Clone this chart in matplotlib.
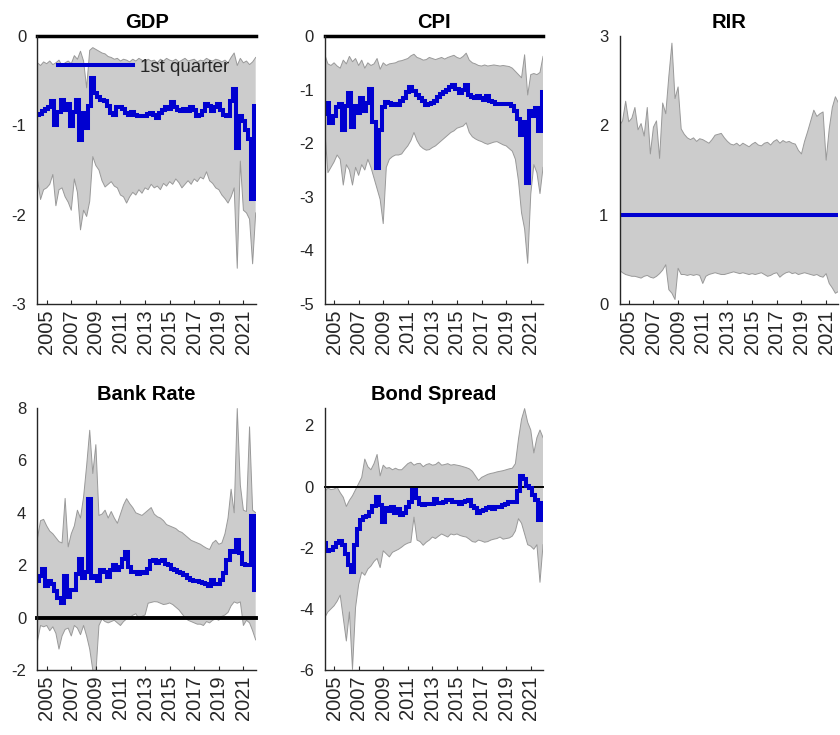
import numpy as np
import matplotlib
matplotlib.use("Agg")
import matplotlib.pyplot as plt

plt.rcParams['font.family'] = ['Liberation Sans', 'DejaVu Sans']
plt.rcParams['axes.unicode_minus'] = False

# quarterly dates, 2004Q2 .. 2022Q1
dates = 2004.25 + 0.25 * np.arange(72)
year_ticks = [2005, 2007, 2009, 2011, 2013, 2015, 2017, 2019, 2021]

# ---- GDP ----
gdp_med = [-0.88, -0.87, -0.84, -0.82, -0.80, -0.73, -1.00, -0.85, -0.72, -0.83, -0.76, -1.01,
           -0.85, -0.72, -1.16, -0.86, -1.03, -0.78, -0.47, -0.64, -0.68, -0.72, -0.73, -0.78,
           -0.86, -0.88, -0.79, -0.79, -0.82, -0.86, -0.88, -0.85, -0.88, -0.90, -0.89, -0.90,
           -0.87, -0.86, -0.88, -0.92, -0.86, -0.83, -0.80, -0.82, -0.74, -0.80, -0.83, -0.84,
           -0.82, -0.84, -0.80, -0.83, -0.90, -0.88, -0.84, -0.76, -0.78, -0.84, -0.79, -0.76,
           -0.83, -0.88, -0.90, -0.73, -0.59, -1.25, -0.90, -0.95, -1.05, -1.15, -1.82, -0.78]
gdp_hi = [-0.30, -0.33, -0.29, -0.31, -0.28, -0.32, -0.30, -0.27, -0.33, -0.30, -0.28, -0.31,
          -0.22, -0.26, -0.17, -0.28, -0.58, -0.16, -0.13, -0.15, -0.17, -0.19, -0.20, -0.23,
          -0.24, -0.26, -0.25, -0.28, -0.26, -0.27, -0.29, -0.26, -0.28, -0.25, -0.27, -0.29,
          -0.26, -0.28, -0.27, -0.30, -0.26, -0.28, -0.25, -0.27, -0.28, -0.26, -0.29, -0.27,
          -0.25, -0.28, -0.27, -0.26, -0.29, -0.27, -0.28, -0.25, -0.27, -0.28, -0.26, -0.27,
          -0.29, -0.27, -0.30, -0.24, -0.19, -0.33, -0.25, -0.30, -0.28, -0.32, -0.29, -0.24]
gdp_lo = [-1.60, -1.83, -1.72, -1.70, -1.66, -1.55, -1.90, -1.72, -1.70, -1.80, -1.86, -1.95,
          -1.60, -1.75, -2.17, -1.95, -2.02, -1.85, -1.35, -1.45, -1.50, -1.62, -1.69, -1.66,
          -1.63, -1.68, -1.70, -1.78, -1.80, -1.87, -1.80, -1.75, -1.78, -1.72, -1.76, -1.70,
          -1.72, -1.66, -1.70, -1.68, -1.72, -1.65, -1.68, -1.63, -1.66, -1.60, -1.64, -1.70,
          -1.66, -1.62, -1.66, -1.60, -1.63, -1.58, -1.60, -1.52, -1.62, -1.65, -1.70, -1.72,
          -1.78, -1.82, -1.87, -1.80, -1.70, -2.60, -1.40, -1.95, -1.98, -2.05, -2.55, -1.98]

# ---- CPI ----
cpi_med = [-1.45, -1.25, -1.62, -1.50, -1.32, -1.26, -1.75, -1.30, -1.07, -1.69, -1.30, -1.44,
           -1.15, -1.40, -1.25, -0.98, -1.60, -2.47, -1.75, -1.32, -1.23, -1.25, -1.29, -1.27,
           -1.28, -1.22, -1.15, -1.05, -0.95, -1.02, -1.10, -1.16, -1.22, -1.29, -1.27, -1.25,
           -1.22, -1.14, -1.08, -1.05, -1.00, -0.96, -0.92, -0.98, -1.07, -1.00, -0.92, -1.10,
           -1.14, -1.16, -1.12, -1.15, -1.19, -1.12, -1.22, -1.24, -1.26, -1.26, -1.26, -1.26,
           -1.27, -1.30, -1.40, -1.55, -1.85, -1.60, -2.75, -1.40, -1.50, -1.35, -1.78, -1.04]
cpi_hi = [-0.35, -0.52, -0.55, -0.50, -0.56, -0.60, -0.45, -0.52, -0.38, -0.48, -0.42, -0.55,
          -0.45, -0.60, -0.50, -0.55, -0.52, -0.42, -0.62, -0.50, -0.55, -0.52, -0.51, -0.50,
          -0.47, -0.46, -0.44, -0.42, -0.37, -0.34, -0.40, -0.42, -0.45, -0.44, -0.40, -0.42,
          -0.44, -0.42, -0.40, -0.43, -0.40, -0.38, -0.36, -0.40, -0.42, -0.38, -0.32, -0.45,
          -0.50, -0.52, -0.55, -0.56, -0.54, -0.56, -0.55, -0.54, -0.55, -0.56, -0.55, -0.56,
          -0.57, -0.60, -0.66, -0.72, -0.78, -0.35, -1.10, -0.72, -0.70, -0.72, -0.68, -0.38]
cpi_lo = [-1.75, -2.55, -2.45, -2.35, -2.22, -2.30, -2.78, -2.40, -2.50, -2.78, -2.45, -2.60,
          -2.40, -2.50, -2.30, -2.45, -2.65, -2.85, -3.05, -3.50, -2.45, -2.30, -2.25, -2.22,
          -2.22, -2.20, -2.12, -2.05, -1.95, -1.80, -1.95, -2.05, -2.10, -2.13, -2.12, -2.08,
          -2.05, -2.00, -1.95, -1.90, -1.85, -1.80, -1.77, -1.72, -1.70, -1.68, -1.62, -1.80,
          -1.88, -1.92, -1.95, -1.97, -2.00, -2.02, -2.00, -1.98, -1.97, -2.00, -2.03, -2.05,
          -2.10, -2.15, -2.30, -2.70, -3.30, -3.60, -4.24, -2.95, -2.40, -2.55, -2.94, -2.45]

# ---- RIR ----
rir_med = [1.0] * 72
rir_hi = [2.00, 2.05, 2.27, 2.04, 2.08, 2.20, 1.95, 2.02, 1.88, 2.20, 1.68, 1.98,
          2.05, 1.63, 2.25, 2.13, 2.55, 2.92, 2.30, 2.43, 1.96, 1.90, 1.86, 1.84,
          1.86, 1.82, 1.85, 1.84, 1.82, 1.80, 1.84, 1.89, 1.90, 1.91, 1.86, 1.82,
          1.79, 1.78, 1.80, 1.77, 1.80, 1.78, 1.76, 1.79, 1.81, 1.78, 1.77, 1.80,
          1.81, 1.78, 1.82, 1.84, 1.80, 1.83, 1.81, 1.82, 1.80, 1.79, 1.72, 1.68,
          1.82, 1.93, 2.05, 2.17, 2.10, 2.13, 2.15, 1.61, 1.96, 2.20, 2.32, 2.25]
rir_lo = [0.38, 0.35, 0.33, 0.32, 0.31, 0.31, 0.30, 0.29, 0.31, 0.32, 0.30, 0.29,
          0.31, 0.34, 0.38, 0.44, 0.16, 0.12, 0.05, 0.40, 0.33, 0.33, 0.32, 0.33,
          0.32, 0.33, 0.32, 0.23, 0.31, 0.33, 0.34, 0.35, 0.34, 0.33, 0.33, 0.34,
          0.35, 0.36, 0.35, 0.34, 0.35, 0.34, 0.33, 0.34, 0.33, 0.34, 0.35, 0.33,
          0.31, 0.32, 0.34, 0.35, 0.30, 0.33, 0.35, 0.36, 0.34, 0.35, 0.33, 0.34,
          0.35, 0.34, 0.33, 0.32, 0.33, 0.31, 0.30, 0.34, 0.23, 0.18, 0.12, 0.14]

# ---- Bank Rate ----
bank_med = [1.40, 1.60, 1.86, 1.20, 1.40, 1.30, 1.00, 0.75, 0.55, 1.59, 0.80, 1.07,
            1.05, 1.66, 2.25, 1.50, 1.75, 4.54, 1.53, 1.58, 1.40, 1.80, 1.75, 1.55,
            1.80, 1.99, 1.80, 1.95, 2.25, 2.51, 1.95, 1.73, 1.75, 1.68, 1.75, 1.72,
            1.85, 2.15, 2.20, 2.10, 2.15, 2.18, 2.05, 2.00, 1.86, 1.80, 1.73, 1.70,
            1.62, 1.50, 1.44, 1.40, 1.40, 1.35, 1.34, 1.28, 1.20, 1.45, 1.27, 1.30,
            1.45, 1.70, 2.18, 2.55, 2.50, 2.97, 2.45, 2.05, 1.99, 2.00, 3.88, 1.07]
bank_hi = [3.03, 3.70, 3.75, 3.50, 3.30, 3.20, 3.05, 2.90, 2.85, 4.55, 2.70, 3.20,
           3.50, 4.10, 3.80, 4.60, 5.80, 7.15, 5.50, 6.60, 3.90, 3.95, 4.10, 3.80,
           4.05, 3.80, 3.60, 3.95, 4.30, 4.54, 4.35, 4.20, 4.00, 3.95, 3.90, 4.00,
           4.10, 4.20, 3.95, 3.85, 3.80, 3.70, 3.55, 3.50, 3.45, 3.40, 3.30, 3.25,
           3.15, 3.05, 2.95, 2.90, 2.85, 2.80, 2.72, 2.65, 2.60, 2.85, 2.95, 2.80,
           2.85, 3.20, 3.80, 4.90, 4.00, 7.98, 5.06, 4.10, 4.05, 7.28, 4.10, 4.00]
bank_lo = [-0.90, -0.30, -0.35, -0.30, -0.50, -0.35, -0.60, -1.20, -0.70, -0.45, -0.40, -0.70,
           -0.30, -0.40, -0.65, -0.30, -0.70, -1.20, -2.00, -2.13, -0.30, -0.05, -0.15, -0.20,
           -0.15, -0.10, -0.20, -0.30, -0.15, -0.05, 0.00, 0.09, 0.15, -0.05, 0.05, 0.10,
           0.55, 0.58, 0.61, 0.60, 0.55, 0.50, 0.52, 0.56, 0.50, 0.40, 0.30, 0.15,
           0.00, -0.10, -0.15, -0.20, -0.25, -0.25, -0.30, -0.15, -0.20, -0.10, -0.05, -0.10,
           0.05, 0.10, 0.20, 0.45, 0.60, 0.55, 0.60, -0.30, -0.10, -0.20, -0.50, -0.85]

# ---- Bond Spread ----
bond_med = [-1.85, -2.12, -2.08, -1.98, -1.83, -1.78, -1.90, -2.20, -2.58, -2.78, -1.90, -1.40,
            -1.10, -1.00, -0.95, -0.82, -0.62, -0.34, -0.60, -1.15, -0.70, -0.80, -0.68, -0.88,
            -0.72, -0.94, -0.85, -0.67, -0.52, -0.10, -0.38, -0.58, -0.60, -0.56, -0.56, -0.56,
            -0.40, -0.55, -0.55, -0.50, -0.45, -0.45, -0.50, -0.52, -0.56, -0.50, -0.48, -0.45,
            -0.62, -0.70, -0.85, -0.80, -0.75, -0.70, -0.67, -0.72, -0.68, -0.67, -0.60, -0.56,
            -0.52, -0.50, -0.50, -0.15, 0.35, 0.25, 0.02, -0.05, -0.28, -0.45, -1.10, -0.55]
bond_hi = [-0.15, -0.05, -0.10, -0.08, -0.02, -0.20, -0.35, -0.65, -0.45, -0.30, -0.10, 0.10,
           0.30, 0.90, 0.65, 0.55, 0.75, 1.05, 0.35, 0.70, 0.60, 0.62, 0.55, 0.60,
           0.55, 0.55, 0.65, 0.75, 0.80, 0.70, 0.75, 0.76, 0.65, 0.72, 0.75, 0.70,
           0.72, 0.80, 0.70, 0.72, 0.75, 0.70, 0.72, 0.70, 0.68, 0.65, 0.62, 0.58,
           0.50, 0.35, 0.20, 0.30, 0.35, 0.40, 0.43, 0.45, 0.48, 0.50, 0.52, 0.55,
           0.58, 0.60, 0.75, 1.55, 2.20, 2.55, 2.10, 1.85, 1.10, 1.60, 1.85, 1.60]
bond_lo = [-4.28, -4.10, -4.00, -3.90, -3.75, -3.55, -4.30, -5.05, -4.10, -5.98, -3.95, -3.20,
           -2.80, -2.90, -2.70, -2.60, -2.45, -2.35, -2.65, -2.10, -2.20, -2.30, -2.15, -2.10,
           -2.05, -1.98, -1.90, -1.85, -1.82, -1.00, -1.75, -1.80, -1.92, -1.82, -1.75, -1.65,
           -1.70, -1.62, -1.55, -1.60, -1.65, -1.55, -1.58, -1.55, -1.60, -1.63, -1.65, -1.72,
           -1.80, -1.82, -1.75, -1.78, -1.82, -1.80, -1.75, -1.72, -1.70, -1.65, -1.72, -1.70,
           -1.68, -1.62, -1.45, -1.05, -1.20, -1.55, -1.90, -1.95, -2.05, -1.90, -3.13, -1.90]

GREY = '#262626'
fig = plt.figure(figsize=(8.4, 7.35), dpi=100)


def panel(rect, title, lo, hi, med, ylim, yticks, zero_lw=None, legend=False):
    ax = fig.add_axes(rect)
    ax.fill_between(dates, lo, hi, facecolor='#cccccc', edgecolor='none', zorder=1)
    ax.plot(dates, lo, color='#999999', lw=0.7, zorder=1.5)
    ax.plot(dates, hi, color='#999999', lw=0.7, zorder=1.5)
    if zero_lw:
        ax.axhline(0, color='black', lw=zero_lw, zorder=2, clip_on=False)
    ax.plot(dates, med, color='#0000d0', lw=2.9, drawstyle='steps-mid',
            zorder=3, label='1st quarter', solid_joinstyle='miter')
    ax.set_xlim(dates[0], dates[-1])
    ax.set_ylim(*ylim)
    ax.set_yticks(yticks)
    ax.set_xticks(year_ticks)
    ax.set_xticklabels([str(y) for y in year_ticks])
    for s in ('top', 'right'):
        ax.spines[s].set_visible(False)
    for s in ('left', 'bottom'):
        ax.spines[s].set_color(GREY)
        ax.spines[s].set_linewidth(1.0)
        ax.spines[s].set_zorder(4)
    ax.tick_params(axis='x', direction='in', length=3, width=0.8, labelsize=14.5,
                   pad=4, labelrotation=90, color=GREY, labelcolor=GREY)
    ax.tick_params(axis='y', length=0, labelsize=12, pad=8, labelcolor=GREY)
    ax.set_title(title, fontsize=14.5, fontweight='bold', pad=6)
    if legend:
        leg = ax.legend(loc='center left', bbox_to_anchor=(0.094, 0.884), frameon=False,
                        fontsize=13.5, handlelength=4.0, handletextpad=0.4,
                        borderpad=0, borderaxespad=0)
        for t in leg.get_texts():
            t.set_color(GREY)
    return ax


panel([0.0446, 0.5864, 0.2598, 0.3646], 'GDP', gdp_lo, gdp_hi, gdp_med,
      (-3, 0), [-3, -2, -1, 0], zero_lw=2.5, legend=True)
panel([0.3867, 0.5864, 0.2598, 0.3646], 'CPI', cpi_lo, cpi_hi, cpi_med,
      (-5, 0), [-5, -4, -3, -2, -1, 0], zero_lw=2.5)
panel([0.7375, 0.5864, 0.2607, 0.3646], 'RIR', rir_lo, rir_hi, rir_med,
      (0, 3), [0, 1, 2, 3])
panel([0.0446, 0.0884, 0.2598, 0.3565], 'Bank Rate', bank_lo, bank_hi, bank_med,
      (-2, 8), [-2, 0, 2, 4, 6, 8], zero_lw=2.8)
panel([0.3867, 0.0884, 0.2598, 0.3565], 'Bond Spread', bond_lo, bond_hi, bond_med,
      (-6, 2.57), [-6, -4, -2, 0, 2], zero_lw=1.4)

fig.savefig('out.png', dpi=100)
